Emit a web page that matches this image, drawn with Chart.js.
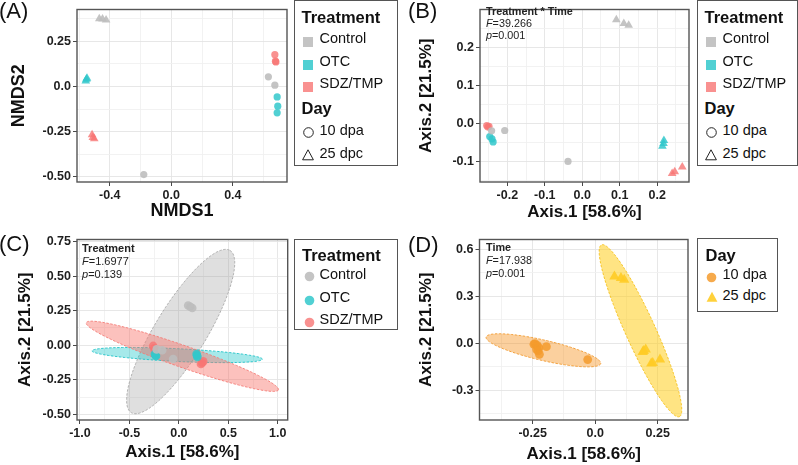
<!DOCTYPE html>
<html>
<head>
<meta charset="utf-8">
<script src="https://cdn.jsdelivr.net/npm/chart.js@4.4.1/dist/chart.umd.min.js"></script>
<style>
  body { margin: 0; background: #fff; font-family: "Liberation Sans", Arial, sans-serif; }
  #fig { position: relative; width: 798px; height: 465px; overflow: hidden; }
  .panel { position: absolute; }
  .tag { position: absolute; font-size: 22px; line-height: 22px; color: #111; }
  .legend { position: absolute; border: 1.4px solid #555; box-sizing: border-box; color: #111; }
  .lg-title { position: absolute; font-weight: bold; font-size: 16.5px; line-height: 16px; white-space: nowrap; }
  .lg-item { position: absolute; font-size: 14.5px; line-height: 16px; white-space: nowrap; }
  .lg-key { position: absolute; }
  .note { position: absolute; color: #222; white-space: nowrap; }
</style>
</head>
<body>
<div id="fig">
  <div class="panel" style="left:0;top:0"><canvas id="chartA" width="292" height="230"></canvas></div>
  <div class="panel" style="left:400px;top:0"><canvas id="chartB" width="294" height="230"></canvas></div>
  <div class="panel" style="left:0;top:230px"><canvas id="chartC" width="292" height="235"></canvas></div>
  <div class="panel" style="left:400px;top:230px"><canvas id="chartD" width="294" height="235"></canvas></div>

  <div class="tag" style="left:-1px;top:0">(A)</div>
  <div class="tag" style="left:408px;top:0">(B)</div>
  <div class="tag" style="left:-1px;top:233px">(C)</div>
  <div class="tag" style="left:408px;top:234px">(D)</div>

  <div class="note" style="left:486px;top:5px;font-size:10.8px;line-height:12px">
    <b>Treatment * Time</b><br><i>F</i>=39.266<br><i>p</i>=0.001
  </div>
  <div class="note" style="left:82px;top:242px;font-size:11px;line-height:13px">
    <b>Treatment</b><br><i>F</i>=1.6977<br><i>p</i>=0.139
  </div>
  <div class="note" style="left:486px;top:241px;font-size:10.8px;line-height:13px">
    <b>Time</b><br><i>F</i>=17.938<br><i>p</i>=0.001
  </div>

  <div class="legend" id="legA" style="left:294px;top:0;width:104px;height:166px"></div>
  <div class="legend" id="legB" style="left:697px;top:0;width:101px;height:166px"></div>
  <div class="legend" id="legC" style="left:294px;top:239px;width:104px;height:91px"></div>
  <div class="legend" id="legD" style="left:697px;top:238px;width:81px;height:74px"></div>
</div>

<script>
// ---- labels ----
const treatments = ['Control', 'OTC', 'SDZ/TMP'];
const days = ['10 dpa', '25 dpc'];

// ---- panel A: NMDS, points as [NMDS1, NMDS2] ----
const aControlDpa = [[0.631, 0.053], [0.673, 0.007], [-0.179, -0.488]];
const aControlDpc = [[-0.468, 0.375], [-0.447, 0.374], [-0.424, 0.368]];
const aOtcDpa = [[0.688, -0.058], [0.692, -0.109], [0.688, -0.146]];
const aOtcDpc = [[-0.552, 0.040], [-0.556, 0.030], [-0.548, 0.046]];
const aSdzDpa = [[0.673, 0.176], [0.680, 0.136], [0.677, 0.140]];
const aSdzDpc = [[-0.515, -0.268], [-0.510, -0.282], [-0.501, -0.290]];
const aXTicks = [-0.4, 0, 0.4];
const aXLabels = ['-0.4', '0.0', '0.4'];
const aXMinor = [-0.6, -0.2, 0.2, 0.6];
const aYTicks = [-0.5, -0.25, 0, 0.25];
const aYLabels = ['-0.50', '-0.25', '0.0', '0.25'];
const aYMinor = [-0.375, -0.125, 0.125, 0.375];
const aXRange = [-0.613, 0.752];
const aYRange = [-0.529, 0.426];

// ---- panel B: PCoA, points as [Axis.1, Axis.2] ----
const bControlDpa = [[-0.242, -0.019], [-0.207, -0.018], [-0.038, -0.099]];
const bControlDpc = [[0.091, 0.272], [0.111, 0.262], [0.124, 0.258]];
const bOtcDpa = [[-0.247, -0.034], [-0.241, -0.040], [-0.238, -0.048]];
const bOtcDpc = [[0.218, -0.044], [0.217, -0.052], [0.214, -0.059]];
const bSdzDpa = [[-0.255, -0.005], [-0.249, -0.007], [-0.252, -0.009]];
const bSdzDpc = [[0.267, -0.114], [0.247, -0.126], [0.240, -0.131]];
const bXTicks = [-0.2, -0.1, 0, 0.1, 0.2];
const bXLabels = ['-0.2', '-0.1', '0.0', '0.1', '0.2'];
const bXMinor = [-0.25, -0.15, -0.05, 0.05, 0.15, 0.25];
const bYTicks = [-0.1, 0, 0.1, 0.2];
const bYLabels = ['-0.1', '0.0', '0.1', '0.2'];
const bYMinor = [-0.15, -0.05, 0.05, 0.15, 0.25];
const bXRange = [-0.273, 0.285];
const bYRange = [-0.153, 0.299];

// ---- panel C: PCoA by treatment ----
const cControl = [[0.094, 0.288], [0.115, 0.278], [0.135, 0.269], [-0.169, -0.036], [-0.058, -0.100], [-0.225, -0.030]];
const cOtc = [[-0.243, -0.064], [-0.236, -0.072], [-0.231, -0.078], [0.179, -0.064], [0.183, -0.075], [0.187, -0.084]];
const cSdz = [[-0.260, -0.005], [-0.250, -0.022], [-0.243, -0.041], [0.223, -0.136], [0.235, -0.126], [0.246, -0.117]];
// ellipses: [centre x, centre y, semi-axis 1 (dx, dy), semi-axis 2 (dx, dy)]
const cEllipseControl = [0.018, 0.099, 0.4985, 0.587, 0.224, -0.095];
const cEllipseOtc = [-0.017, -0.071, 0.861, -0.030, 0.000, 0.046];
const cEllipseSdz = [0.035, -0.080, 0.971, -0.243, 0.0375, 0.074];
const cXTicks = [-1, -0.5, 0, 0.5, 1];
const cXLabels = ['-1.0', '-0.5', '0.0', '0.5', '1.0'];
const cXMinor = [-0.75, -0.25, 0.25, 0.75];
const cYTicks = [-0.5, -0.25, 0, 0.25, 0.5, 0.75];
const cYLabels = ['-0.50', '-0.25', '0.00', '0.25', '0.50', '0.75'];
const cYMinor = [-0.375, -0.125, 0.125, 0.375, 0.625];
const cXRange = [-1.03, 1.10];
const cYRange = [-0.541, 0.765];

// ---- panel D: PCoA by day ----
const dDpa = [[-0.241, -0.002], [-0.245, -0.006], [-0.232, -0.013], [-0.225, -0.028], [-0.234, -0.040],
              [-0.228, -0.048], [-0.223, -0.070], [-0.195, -0.021], [-0.030, -0.104]];
const dDpc = [[0.077, 0.428], [0.103, 0.418], [0.116, 0.407], [0.190, -0.055], [0.194, -0.049], [0.202, -0.040],
              [0.224, -0.129], [0.230, -0.125], [0.259, -0.104]];
const dEllipseDpa = [-0.207, -0.0445, 0.229, -0.0846, -0.0089, -0.0636];
const dEllipseDpc = [0.181, 0.0807, 0.156, -0.549, 0.0539, 0.0407];
const dXTicks = [-0.25, 0, 0.25];
const dXLabels = ['-0.25', '0.0', '0.25'];
const dXMinor = [-0.375, -0.125, 0.125];
const dYTicks = [-0.3, 0, 0.3, 0.6];
const dYLabels = ['-0.3', '0.0', '0.3', '0.6'];
const dYMinor = [-0.45, -0.15, 0.15, 0.45];
const dXRange = [-0.4625, 0.371];
const dYRange = [-0.49, 0.664];

// ---- styling ----
const treatColors = ['rgba(190,190,190,0.9)', 'rgba(50,200,203,0.85)', 'rgba(248,118,116,0.8)'];
const treatFills = ['rgba(150,150,150,0.3)', 'rgba(0,191,196,0.35)', 'rgba(248,118,109,0.45)'];
const treatStrokes = ['#aaaaaa', '#1fc3c7', '#f47c76'];
const dayColors = ['rgba(245,155,45,0.85)', 'rgba(255,204,38,0.9)'];
const dayFills = ['rgba(247,150,40,0.45)', 'rgba(255,205,30,0.55)'];
const dayStrokes = ['#f29a2e', '#f5c11c'];

Chart.defaults.font.family = '"Liberation Sans", Arial, sans-serif';

const toXY = pts => pts.map(([x, y]) => ({ x, y }));

const panelPlugin = {
  id: 'panelFrame',
  beforeDatasetsDraw(chart, args, opts) {
    const { ctx, chartArea: ca, scales: { x, y } } = chart;
    (opts.ellipses || []).forEach(e => {
      const [cx, cy, ux, uy, vx, vy] = e.p;
      ctx.save();
      ctx.beginPath();
      ctx.rect(ca.left, ca.top, ca.right - ca.left, ca.bottom - ca.top);
      ctx.clip();
      ctx.beginPath();
      for (let i = 0; i <= 180; i++) {
        const t = i / 180 * Math.PI * 2;
        const px = x.getPixelForValue(cx + ux * Math.cos(t) + vx * Math.sin(t));
        const py = y.getPixelForValue(cy + uy * Math.cos(t) + vy * Math.sin(t));
        if (i === 0) ctx.moveTo(px, py); else ctx.lineTo(px, py);
      }
      ctx.closePath();
      ctx.fillStyle = e.fill;
      ctx.fill();
      ctx.setLineDash([2.5, 1.5]);
      ctx.lineWidth = 0.9;
      ctx.strokeStyle = e.stroke;
      ctx.stroke();
      ctx.restore();
    });
  },
  afterDraw(chart) {
    const { ctx, chartArea: ca } = chart;
    ctx.save();
    ctx.strokeStyle = '#555';
    ctx.lineWidth = 1.4;
    ctx.strokeRect(ca.left, ca.top, ca.right - ca.left, ca.bottom - ca.top);
    ctx.restore();
  }
};

function axis(range, major, labels, minor, fixed, title, titleSize, titlePad, isX) {
  const all = major.concat(minor).filter(v => v >= range[0] && v <= range[1]).sort((a, b) => a - b);
  const isMajor = v => major.some(m => Math.abs(m - v) < 1e-9);
  return {
    type: 'linear',
    position: isX ? 'bottom' : 'left',
    min: range[0],
    max: range[1],
    afterBuildTicks: s => { s.ticks = all.map(v => ({ value: v })); },
    afterFit: s => { if (isX) s.height = fixed; else s.width = fixed; },
    border: { display: false },
    grid: {
      color: c => (c.tick && isMajor(c.tick.value)) ? '#e4e4e4' : '#f0f0f0',
      tickColor: c => (c.tick && isMajor(c.tick.value)) ? '#333' : 'rgba(0,0,0,0)',
      lineWidth: 0.9,
      tickLength: 4
    },
    ticks: {
      autoSkip: false,
      maxRotation: 0,
      padding: 2,
      color: '#1e1e1e',
      font: { size: 12.5, weight: 'bold' },
      callback: v => {
        const i = major.findIndex(m => Math.abs(m - v) < 1e-9);
        return i >= 0 ? labels[i] : '';
      }
    },
    title: {
      display: true,
      text: title,
      color: '#111',
      font: { size: titleSize, weight: 'bold' },
      padding: isX ? { top: 0, bottom: titlePad } : { top: titlePad, bottom: 0 }
    }
  };
}

function makeChart(id, p) {
  const canvas = document.getElementById(id);
  const ts = p.titleSize || 17;
  new Chart(canvas, {
    type: 'scatter',
    data: { datasets: p.datasets },
    options: {
      responsive: false,
      animation: false,
      events: [],
      layout: { padding: { left: 0, top: p.area.top, right: canvas.width - p.area.right, bottom: 0 } },
      scales: {
        x: axis(p.xRange, p.xTicks, p.xLabels, p.xMinor, canvas.height - p.area.bottom, p.xTitle, ts, p.xTitlePad, true),
        y: axis(p.yRange, p.yTicks, p.yLabels, p.yMinor, p.area.left, p.yTitle, ts, p.yTitlePad, false)
      },
      plugins: {
        legend: { display: false },
        tooltip: { enabled: false },
        panelFrame: { ellipses: p.ellipses || [] }
      }
    },
    plugins: [panelPlugin]
  });
}

function pointSet(pts, color, style, r) {
  return {
    data: toXY(pts),
    pointStyle: style,
    pointRadius: r,
    backgroundColor: color,
    borderWidth: 0,
    borderColor: color
  };
}

const pcoaX = 'Axis.1 [58.6%]';
const pcoaY = 'Axis.2 [21.5%]';

makeChart('chartA', {
  area: { left: 77, right: 291, top: 1, bottom: 182 },
  xRange: aXRange, yRange: aYRange,
  xTicks: aXTicks, xLabels: aXLabels, xMinor: aXMinor,
  yTicks: aYTicks, yLabels: aYLabels, yMinor: aYMinor,
  xTitle: 'NMDS1', yTitle: 'NMDS2', titleSize: 18, xTitlePad: 8, yTitlePad: 8.3,
  datasets: [
    pointSet(aControlDpa, treatColors[0], 'circle', 3.6),
    pointSet(aOtcDpa, treatColors[1], 'circle', 3.6),
    pointSet(aSdzDpa, treatColors[2], 'circle', 3.6),
    pointSet(aControlDpc, treatColors[0], 'triangle', 5),
    pointSet(aOtcDpc, treatColors[1], 'triangle', 5),
    pointSet(aSdzDpc, treatColors[2], 'triangle', 5)
  ]
});

makeChart('chartB', {
  area: { left: 80, right: 292, top: 1, bottom: 182 },
  xRange: bXRange, yRange: bYRange,
  xTicks: bXTicks, xLabels: bXLabels, xMinor: bXMinor,
  yTicks: bYTicks, yLabels: bYLabels, yMinor: bYMinor,
  xTitle: pcoaX, yTitle: pcoaY, xTitlePad: 7.3, yTitlePad: 15.8,
  datasets: [
    pointSet(bControlDpa, treatColors[0], 'circle', 3.6),
    pointSet(bOtcDpa, treatColors[1], 'circle', 3.6),
    pointSet(bSdzDpa, treatColors[2], 'circle', 3.6),
    pointSet(bControlDpc, treatColors[0], 'triangle', 5),
    pointSet(bOtcDpc, treatColors[1], 'triangle', 5),
    pointSet(bSdzDpc, treatColors[2], 'triangle', 5)
  ]
});

makeChart('chartC', {
  area: { left: 77, right: 288, top: 9, bottom: 190 },
  xRange: cXRange, yRange: cYRange,
  xTicks: cXTicks, xLabels: cXLabels, xMinor: cXMinor,
  yTicks: cYTicks, yLabels: cYLabels, yMinor: cYMinor,
  xTitle: pcoaX, yTitle: pcoaY, xTitlePad: 2.3, yTitlePad: 14.8,
  ellipses: [
    { p: cEllipseControl, fill: treatFills[0], stroke: treatStrokes[0] },
    { p: cEllipseOtc, fill: treatFills[1], stroke: treatStrokes[1] },
    { p: cEllipseSdz, fill: treatFills[2], stroke: treatStrokes[2] }
  ],
  datasets: [
    pointSet(cControl, treatColors[0], 'circle', 4.3),
    pointSet(cOtc, treatColors[1], 'circle', 4.3),
    pointSet(cSdz, treatColors[2], 'circle', 4.3)
  ]
});

makeChart('chartD', {
  area: { left: 79.5, right: 292.7, top: 9, bottom: 190 },
  xRange: dXRange, yRange: dYRange,
  xTicks: dXTicks, xLabels: dXLabels, xMinor: dXMinor,
  yTicks: dYTicks, yLabels: dYLabels, yMinor: dYMinor,
  xTitle: pcoaX, yTitle: pcoaY, xTitlePad: 0.8, yTitlePad: 15.8,
  ellipses: [
    { p: dEllipseDpa, fill: dayFills[0], stroke: dayStrokes[0] },
    { p: dEllipseDpc, fill: dayFills[1], stroke: dayStrokes[1] }
  ],
  datasets: [
    pointSet(dDpa, dayColors[0], 'circle', 4.4),
    pointSet(dDpc, dayColors[1], 'triangle', 6)
  ]
});

// ---- legends (HTML) ----
function keySvg(shape, fill, stroke, size) {
  const h = size, c = size / 2;
  let body;
  if (shape === 'square') body = `<rect x="0" y="0" width="${h}" height="${h}" fill="${fill}"/>`;
  else if (shape === 'circle') body = `<circle cx="${c}" cy="${c}" r="${c - 0.7}" fill="${fill}" stroke="${stroke}" stroke-width="1"/>`;
  else body = `<polygon points="${c},0.8 ${h - 0.6},${h - 1.2} 0.6,${h - 1.2}" fill="${fill}" stroke="${stroke}" stroke-width="1"/>`;
  return `<svg width="${h}" height="${h}" viewBox="0 0 ${h} ${h}">${body}</svg>`;
}

function addTitle(box, text, x, cy) {
  box.insertAdjacentHTML('beforeend', `<div class="lg-title" style="left:${x}px;top:${cy - 8}px">${text}</div>`);
}
function addItem(box, text, svg, kx, size, tx, cy) {
  box.insertAdjacentHTML('beforeend',
    `<div class="lg-key" style="left:${kx - size / 2}px;top:${cy - size / 2}px;width:${size}px;height:${size}px">${svg}</div>` +
    `<div class="lg-item" style="left:${tx}px;top:${cy - 8}px">${text}</div>`);
}

function treatDayLegend(id) {
  const box = document.getElementById(id);
  addTitle(box, 'Treatment', 6.5, 15.5);
  const ys = [36.5, 59.5, 82];
  treatments.forEach((t, i) => addItem(box, t, keySvg('square', treatColors[i], 'none', 10), 13, 10, 24.5, ys[i]));
  addTitle(box, 'Day', 6.5, 106.5);
  addItem(box, days[0], keySvg('circle', 'none', '#222', 11), 13, 11, 24.5, 128.5);
  addItem(box, days[1], keySvg('triangle', 'none', '#222', 12), 13, 12, 24.5, 151.5);
}
treatDayLegend('legA');
treatDayLegend('legB');

(function () {
  const box = document.getElementById('legC');
  addTitle(box, 'Treatment', 7, 14.5);
  const ys = [33.5, 57, 79.3];
  treatments.forEach((t, i) => addItem(box, t, keySvg('circle', treatColors[i], 'none', 11), 14.5, 11, 24.5, ys[i]));
})();

(function () {
  const box = document.getElementById('legD');
  addTitle(box, 'Day', 7.5, 16);
  addItem(box, days[0], keySvg('circle', dayColors[0], 'none', 11), 13.5, 11, 24.5, 35);
  addItem(box, days[1], keySvg('triangle', dayColors[1], 'none', 12), 13.5, 12, 24.5, 56);
})();
</script>
</body>
</html>
